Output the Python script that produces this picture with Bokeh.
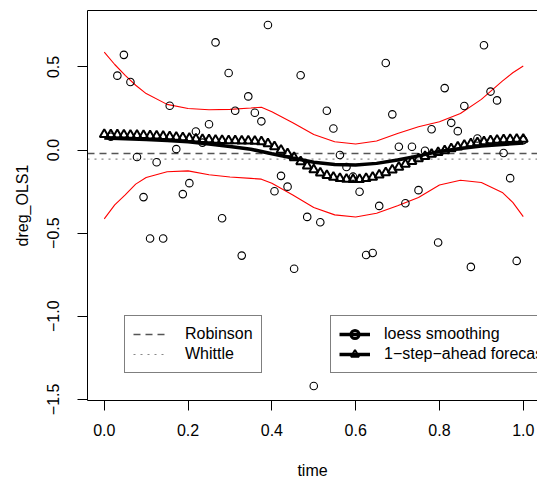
from bokeh.plotting import figure
from bokeh.models import (ColumnDataSource, Legend, LegendItem, LinearAxis,
                          FixedTicker, Range1d)
from bokeh.embed import file_html
from bokeh.resources import INLINE

# ---------------- data ----------------
obs_index = list(range(1, 65))
obs_values = [0.08, 0.448, 0.573, 0.410, -0.042, -0.283, -0.532, -0.073,
              -0.532, 0.267, 0.006, -0.265, -0.199, 0.112, 0.045, 0.155,
              0.648, -0.410, 0.464, 0.237, -0.635, 0.323, 0.225, 0.173,
              0.753, -0.248, -0.155, -0.220, -0.714, 0.450, -0.402, -1.420,
              -0.434, 0.237, 0.130, -0.030, -0.102, -0.160, -0.251, -0.631,
              -0.619, -0.336, 0.524, 0.215, 0.020, -0.320, 0.020, -0.241,
              -0.004, 0.125, -0.556, 0.373, 0.164, 0.114, 0.265, -0.703,
              0.070, 0.631, 0.352, 0.299, -0.018, -0.169, -0.667, 0.060]

fc_index = list(range(0, 65))
fc_values = [0.094, 0.093, 0.092, 0.091, 0.090, 0.089, 0.088, 0.086, 0.085,
             0.083, 0.081, 0.078, 0.075, 0.071, 0.067, 0.064, 0.062, 0.060,
             0.058, 0.057, 0.056, 0.055, 0.055, 0.054, 0.050, 0.038, 0.020,
             0.000, -0.022, -0.045, -0.070, -0.095, -0.118, -0.138, -0.152,
             -0.163, -0.170, -0.175, -0.177, -0.176, -0.171, -0.163, -0.150,
             -0.136, -0.120, -0.103, -0.085, -0.068, -0.052, -0.038, -0.025,
             -0.014, -0.003, 0.008, 0.019, 0.029, 0.038, 0.045, 0.051, 0.056,
             0.060, 0.063, 0.064, 0.065, 0.065]

band_time = [0.0, 0.025, 0.05, 0.075, 0.10, 0.15, 0.20, 0.25, 0.30, 0.35,
             0.375, 0.40, 0.45, 0.50, 0.55, 0.60, 0.65, 0.70, 0.75, 0.80,
             0.85, 0.90, 0.95, 0.975, 1.0]
band_upper = [0.590, 0.515, 0.450, 0.390, 0.340, 0.275, 0.250, 0.243, 0.245,
              0.253, 0.258, 0.230, 0.165, 0.094, 0.050, 0.037, 0.055, 0.100,
              0.140, 0.170, 0.220, 0.305, 0.415, 0.465, 0.506]
band_lower = [-0.414, -0.330, -0.270, -0.205, -0.165, -0.130, -0.125, -0.148,
              -0.162, -0.170, -0.175, -0.200, -0.270, -0.345, -0.390, -0.403,
              -0.380, -0.335, -0.285, -0.210, -0.182, -0.195, -0.255, -0.315,
              -0.400]

loess_time = [0.0, 0.05, 0.10, 0.15, 0.20, 0.25, 0.30, 0.35, 0.40, 0.45, 0.50,
              0.55, 0.60, 0.65, 0.70, 0.75, 0.80, 0.85, 0.90, 0.95, 1.0]
loess_values = [0.072, 0.068, 0.063, 0.057, 0.050, 0.036, 0.021, 0.005,
                -0.022, -0.048, -0.073, -0.087, -0.090, -0.080, -0.060,
                -0.035, -0.008, 0.010, 0.024, 0.034, 0.042]

robinson_level = -0.020
whittle_level = -0.055

x_ticks = [0.0, 0.2, 0.4, 0.6, 0.8, 1.0]
x_tick_labels = ["0.0", "0.2", "0.4", "0.6", "0.8", "1.0"]
y_ticks = [-1.5, -1.0, -0.5, 0.0, 0.5]
y_tick_labels = ["\u22121.5", "\u22121.0", "\u22120.5", "0.0", "0.5"]

legend1_labels = ["Robinson", "Whittle"]
legend2_labels = ["loess smoothing", "1\u2212step\u2212ahead forecasts"]

# ---------------- derived ----------------
obs_time = [i / 64 for i in obs_index]
fc_time = [k / 64 for k in fc_index]

ymin, ymax = min(obs_values), max(obs_values)
ypad = 0.04 * (ymax - ymin)
X_START, X_END = -0.04, 1.034   # right side of the R region is cut by the picture edge

FONT = "Liberation Sans"

p = figure(width=537, height=481, output_backend="svg", toolbar_location=None,
           x_range=Range1d(X_START, X_END),
           y_range=Range1d(ymin - ypad, ymax + ypad),
           min_border_left=87, min_border_right=0, min_border_top=10,
           min_border_bottom=79, x_axis_label="time", y_axis_label="dreg_OLS1")
p.xgrid.visible = False
p.ygrid.visible = False
p.outline_line_color = None
p.background_fill_color = "white"
p.border_fill_color = "white"

for ax, ticks, labels in ((p.xaxis[0], x_ticks, x_tick_labels),
                          (p.yaxis[0], y_ticks, y_tick_labels)):
    ax.ticker = FixedTicker(ticks=ticks)
    ax.major_label_overrides = {t: l for t, l in zip(ticks, labels)}
    ax.minor_tick_line_color = None
    ax.major_tick_in = 0
    ax.major_tick_out = 10
    ax.axis_line_color = "black"
    ax.major_tick_line_color = "black"
    ax.major_label_text_font = FONT
    ax.major_label_text_font_size = "16px"
    ax.major_label_text_color = "black"
    ax.axis_label_text_font = FONT
    ax.axis_label_text_font_size = "16px"
    ax.axis_label_text_font_style = "normal"
    ax.axis_label_text_color = "black"

p.xaxis[0].major_label_standoff = 13
p.xaxis[0].axis_label_standoff = 23
p.yaxis[0].major_label_orientation = "vertical"
p.yaxis[0].major_label_standoff = 18
p.yaxis[0].axis_label_standoff = 14

top_axis = LinearAxis(ticker=FixedTicker(ticks=[]), major_tick_out=0,
                      major_tick_in=0, minor_tick_out=0, minor_tick_in=0,
                      major_label_standoff=0, major_label_text_font_size="0px",
                      axis_line_color="black")
p.add_layout(top_axis, "above")

# reference levels
src_lv = ColumnDataSource(dict(x=[X_START, X_END], rob=[robinson_level] * 2,
                               whi=[whittle_level] * 2))
r_rob = p.line("x", "rob", source=src_lv, line_color="#555555",
               line_width=1.5, line_dash="7 5")
r_whi = p.line("x", "whi", source=src_lv, line_color="#888888",
               line_width=1.2, line_dash="2 5")

# band
src_band = ColumnDataSource(dict(t=band_time, up=band_upper, lo=band_lower))
p.line("t", "up", source=src_band, line_color="red", line_width=1.1)
p.line("t", "lo", source=src_band, line_color="red", line_width=1.1)

# observations
src_obs = ColumnDataSource(dict(t=obs_time, y=obs_values))
p.scatter("t", "y", source=src_obs, marker="circle", size=7.5,
          fill_color=None, line_color="black", line_width=1.1)

# loess
src_lo = ColumnDataSource(dict(t=loess_time, y=loess_values))
r_loess = p.line("t", "y", source=src_lo, line_color="black", line_width=3.5)
# zero-size markers on the loess points: invisible in the plot, used for the legend symbol
r_circ = p.scatter("t", "y", source=src_lo, marker="circle", size=0,
                   fill_color=None, line_color="black", line_width=3)

# forecasts
src_fc = ColumnDataSource(dict(t=fc_time, y=fc_values))
r_fc = p.scatter("t", "y", source=src_fc, marker="triangle", size=9,
                 fill_color=None, line_color="black", line_width=2)

leg_common = dict(padding=8, spacing=0, label_height=20, glyph_height=20,
                  label_text_font=FONT, label_text_font_size="16px",
                  label_text_color="black", border_line_color="black",
                  border_line_width=1, background_fill_color="white",
                  background_fill_alpha=1.0, margin=0)

leg1 = Legend(items=[LegendItem(label=legend1_labels[0], renderers=[r_rob]),
                     LegendItem(label=legend1_labels[1], renderers=[r_whi])],
              location=(37, 27), glyph_width=34, label_standoff=18,
              **leg_common)
leg2 = Legend(items=[LegendItem(label=legend2_labels[0], renderers=[r_loess, r_circ]),
                     LegendItem(label=legend2_labels[1], renderers=[r_loess, r_fc])],
              location=(243, 27), glyph_width=31, label_standoff=14,
              **leg_common)
p.add_layout(leg1)
p.add_layout(leg2)

open("out.html", "w").write(file_html(p, INLINE))
